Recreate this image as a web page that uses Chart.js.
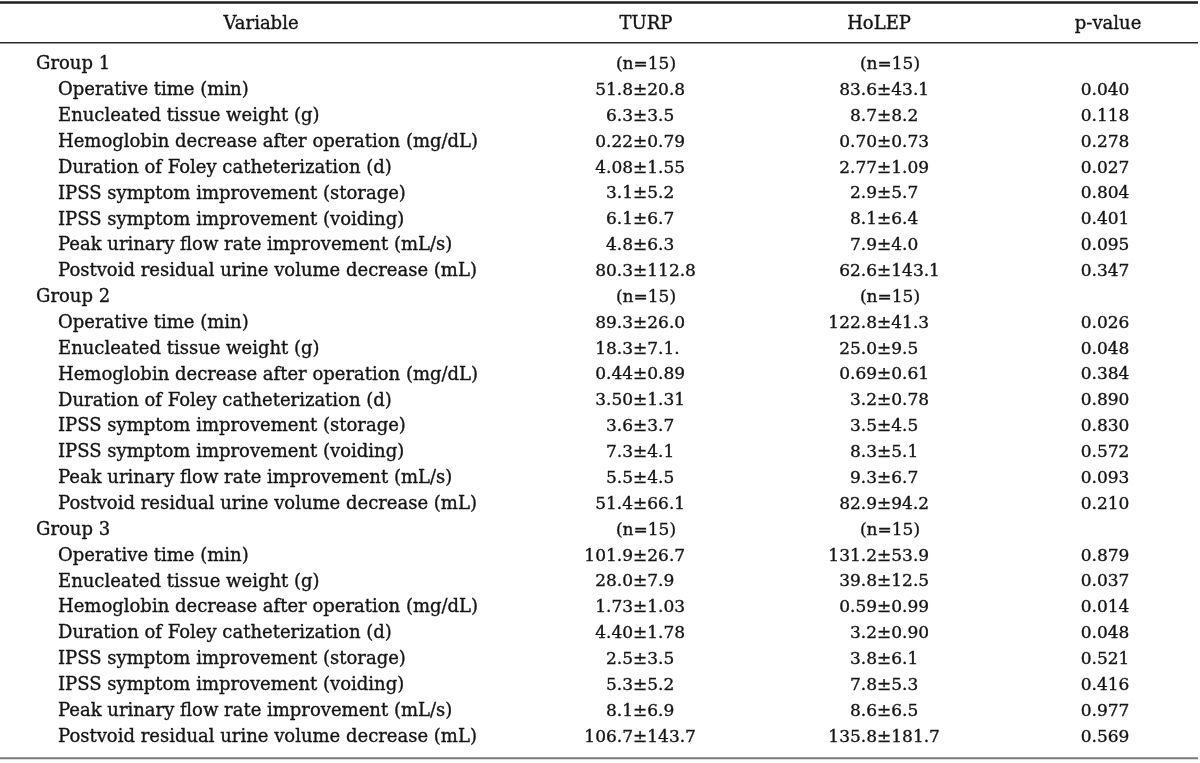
<!DOCTYPE html>
<html>
<head>
<meta charset="utf-8">
<script src="https://cdn.jsdelivr.net/npm/chart.js@4.4.1/dist/chart.umd.min.js"></script>
<style>
  html, body { margin: 0; padding: 0; background: #fff; }
  #wrap { width: 1200px; height: 763px; position: relative; }
</style>
</head>
<body>
<div id="wrap"><canvas id="tableChart"></canvas></div>
<script>
// table content
const headers = ['Variable', 'TURP', 'HoLEP', 'p-value'];
const groups = ['Group 1', 'Group 2', 'Group 3'];
const turpN = [15, 15, 15];
const holepN = [15, 15, 15];
const variables = [
    'Operative time (min)',
    'Enucleated tissue weight (g)',
    'Hemoglobin decrease after operation (mg/dL)',
    'Duration of Foley catheterization (d)',
    'IPSS symptom improvement (storage)',
    'IPSS symptom improvement (voiding)',
    'Peak urinary flow rate improvement (mL/s)',
    'Postvoid residual urine volume decrease (mL)'
];
const turp1 = ['51.8±20.8', '6.3±3.5', '0.22±0.79', '4.08±1.55', '3.1±5.2', '6.1±6.7', '4.8±6.3', '80.3±112.8'];
const holep1 = ['83.6±43.1', '8.7±8.2', '0.70±0.73', '2.77±1.09', '2.9±5.7', '8.1±6.4', '7.9±4.0', '62.6±143.1'];
const pValue1 = ['0.040', '0.118', '0.278', '0.027', '0.804', '0.401', '0.095', '0.347'];
const turp2 = ['89.3±26.0', '18.3±7.1.', '0.44±0.89', '3.50±1.31', '3.6±3.7', '7.3±4.1', '5.5±4.5', '51.4±66.1'];
const holep2 = ['122.8±41.3', '25.0±9.5', '0.69±0.61', '3.2±0.78', '3.5±4.5', '8.3±5.1', '9.3±6.7', '82.9±94.2'];
const pValue2 = ['0.026', '0.048', '0.384', '0.890', '0.830', '0.572', '0.093', '0.210'];
const turp3 = ['101.9±26.7', '28.0±7.9', '1.73±1.03', '4.40±1.78', '2.5±3.5', '5.3±5.2', '8.1±6.9', '106.7±143.7'];
const holep3 = ['131.2±53.9', '39.8±12.5', '0.59±0.99', '3.2±0.90', '3.8±6.1', '7.8±5.3', '8.6±6.5', '135.8±181.7'];
const pValue3 = ['0.879', '0.037', '0.014', '0.048', '0.521', '0.416', '0.977', '0.569'];

const turpAll = [turp1, turp2, turp3];
const holepAll = [holep1, holep2, holep3];
const pAll = [pValue1, pValue2, pValue3];

// build the rows: one group row then its variables
const rows = [];
groups.forEach((g, gi) => {
    rows.push({ label: g, level: 0, cells: ['(n=' + turpN[gi] + ')', '(n=' + holepN[gi] + ')', ''] });
    variables.forEach((v, vi) => {
        rows.push({ label: v, level: 1, cells: [turpAll[gi][vi], holepAll[gi][vi], pAll[gi][vi]] });
    });
});

const LABEL_FONT = '18px "DejaVu Serif"';
const NUM_FONT = '17px "DejaVu Serif"';
const INK = '#141414';

// per column drawing: where the ± sits / where plain text is centred, relative to the column pixel
const colStyle = [
    null,
    { pm: -7, plain: 6, head: 6 },
    { pm: 3, plain: 16, head: 5 },
    { pm: 0, plain: -3, head: 0 }
];

// fill plus a hairline stroke so the serif looks a bit heavier
function ink(ctx, text, x, y) {
    ctx.fillText(text, x, y);
    ctx.strokeText(text, x, y);
}

function drawCell(ctx, text, px, py, style) {
    const k = text.indexOf('±');
    if (k >= 0) {
        const left = text.slice(0, k);
        const right = text.slice(k + 1);
        const ax = px + style.pm;
        ctx.textAlign = 'right';
        ink(ctx, left, ax, py);
        ctx.textAlign = 'left';
        ink(ctx, '±', ax, py);
        ink(ctx, right, ax + ctx.measureText('±').width, py);
    } else {
        ctx.textAlign = 'center';
        ink(ctx, text, px + style.plain, py);
    }
}

const tableText = {
    id: 'tableText',
    afterDatasetsDraw(chart) {
        const ctx = chart.ctx;
        const xs = chart.scales.x;
        const ys = chart.scales.y;
        const area = chart.chartArea;
        ctx.save();

        // rules
        function rule(v, width, color) {
            const yy = ys.getPixelForValue(v);
            ctx.beginPath();
            ctx.lineWidth = width;
            ctx.strokeStyle = color;
            ctx.moveTo(area.left, yy);
            ctx.lineTo(area.right - 2, yy);
            ctx.stroke();
        }
        rule(-2.4, 2.5, '#1e1e1e');
        rule(-0.85, 1.5, '#2a2a2a');
        rule(26.82, 2, '#7a7a7a');

        ctx.fillStyle = INK;
        ctx.strokeStyle = INK;
        ctx.lineWidth = 0.35;
        ctx.textBaseline = 'middle';

        // header row
        ctx.font = LABEL_FONT;
        const hy = ys.getPixelForValue(-1.55);
        ctx.textAlign = 'center';
        ink(ctx, headers[0], area.left + 261, hy);
        for (let c = 1; c < headers.length; c++) {
            ink(ctx, headers[c], xs.getPixelForValue(c) + colStyle[c].head, hy);
        }

        // body cells, placed at the dataset points
        chart.data.datasets.forEach((ds, di) => {
            const meta = chart.getDatasetMeta(di);
            ctx.font = di === 0 ? LABEL_FONT : NUM_FONT;
            meta.data.forEach((pt, i) => {
                const text = ds.texts[i];
                if (!text) return;
                if (di === 0) {
                    ctx.textAlign = 'left';
                    ink(ctx, text, area.left + (rows[i].level ? 58 : 36), pt.y);
                } else {
                    drawCell(ctx, text, pt.x, pt.y, colStyle[di]);
                }
            });
        });
        ctx.restore();
    }
};

const datasets = [0, 1, 2, 3].map(c => ({
    label: headers[c],
    data: rows.map((r, i) => ({ x: c, y: i })),
    texts: rows.map(r => (c === 0 ? r.label : r.cells[c - 1])),
    pointRadius: 0,
    pointHoverRadius: 0,
    showLine: false
}));

new Chart(document.getElementById('tableChart'), {
    type: 'scatter',
    data: { datasets: datasets },
    options: {
        responsive: true,
        maintainAspectRatio: false,
        animation: false,
        layout: { padding: 0 },
        plugins: {
            legend: { display: false },
            tooltip: { enabled: false }
        },
        scales: {
            x: { type: 'linear', display: false, min: -1.735, max: 3.393 },
            y: { type: 'linear', display: false, reverse: true, min: -2.5, max: 27 }
        }
    },
    plugins: [tableText]
});
</script>
</body>
</html>
